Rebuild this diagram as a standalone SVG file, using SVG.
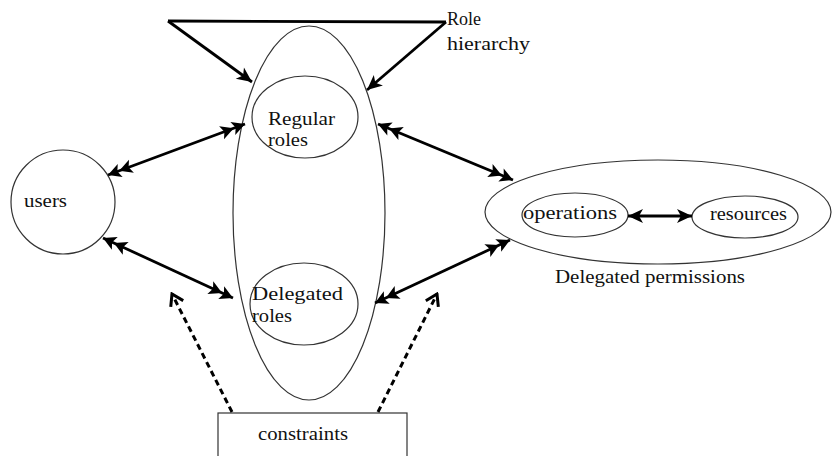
<svg xmlns="http://www.w3.org/2000/svg" width="833" height="456" viewBox="0 0 833 456">
  <defs>
    <style>
      .outline { fill: none; stroke: #333; stroke-width: 1.2; }
      .link { fill: none; stroke: #000; stroke-width: 2.8; }
      .dash { fill: none; stroke: #000; stroke-width: 3; stroke-dasharray: 6 4; }
      .lbl { font-family: "Liberation Serif", "Times New Roman", serif; font-size: 18px; fill: #111; }
    </style>
    <!-- double-stacked arrowhead used on both ends of the association links -->
    <marker id="dbl" viewBox="-28 -8 30 16" refX="0" refY="0" markerWidth="30" markerHeight="16" markerUnits="userSpaceOnUse" orient="auto-start-reverse">
      <path d="M0,0 L-13,-7 L-10,0 L-13,7 Z M-12,0 L-25,-7 L-22,0 L-25,7 Z" fill="#000"/>
    </marker>
    <marker id="tri" viewBox="-16 -8 18 16" refX="0" refY="0" markerWidth="18" markerHeight="16" markerUnits="userSpaceOnUse" orient="auto-start-reverse">
      <path d="M0,0 L-15,-7 L-11,0 L-15,7 Z" fill="#000"/>
    </marker>
    <marker id="open" viewBox="-14 -9 16 18" refX="0" refY="0" markerWidth="16" markerHeight="18" markerUnits="userSpaceOnUse" orient="auto">
      <path d="M-11,-7 L0,0 L-11,7" fill="none" stroke="#000" stroke-width="3"/>
    </marker>
  </defs>

  <!-- role hierarchy bar -->
  <g id="role-hierarchy">
    <line x1="168" y1="21" x2="446" y2="22" class="link" stroke-width="1.6"/>
    <text class="lbl" x="447" y="25" textLength="34" lengthAdjust="spacingAndGlyphs">Role</text>
    <text class="lbl" x="447" y="50" textLength="83" lengthAdjust="spacingAndGlyphs">hierarchy</text>
  </g>

  <!-- roles container -->
  <g id="roles">
    <ellipse cx="309" cy="213" rx="76" ry="187" class="outline"/>
  </g>

  <g id="regular-roles">
    <ellipse cx="305" cy="117" rx="53" ry="41" class="outline"/>
    <text class="lbl" x="268" y="125" textLength="67" lengthAdjust="spacingAndGlyphs">Regular</text>
    <text class="lbl" x="268" y="146" textLength="40" lengthAdjust="spacingAndGlyphs">roles</text>
  </g>

  <g id="delegated-roles">
    <ellipse cx="304" cy="304" rx="54" ry="41" class="outline"/>
    <text class="lbl" x="252" y="300" textLength="91" lengthAdjust="spacingAndGlyphs">Delegated</text>
    <text class="lbl" x="252" y="322" textLength="40" lengthAdjust="spacingAndGlyphs">roles</text>
  </g>

  <g id="users">
    <ellipse cx="63" cy="202" rx="52" ry="52" class="outline"/>
    <text class="lbl" x="24" y="207" textLength="43" lengthAdjust="spacingAndGlyphs" font-size="15">users</text>
  </g>

  <g id="delegated-permissions">
    <ellipse cx="658" cy="212" rx="173" ry="52" class="outline"/>
    <text class="lbl" x="555" y="283" textLength="190" lengthAdjust="spacingAndGlyphs" font-size="16">Delegated permissions</text>
  </g>

  <g id="operations">
    <ellipse cx="575" cy="215" rx="53" ry="22" class="outline"/>
    <text class="lbl" x="523" y="219" textLength="94" lengthAdjust="spacingAndGlyphs" font-size="16">operations</text>
  </g>

  <g id="resources">
    <ellipse cx="745" cy="217" rx="53" ry="21" class="outline"/>
    <text class="lbl" x="710" y="220" textLength="77" lengthAdjust="spacingAndGlyphs" font-size="16">resources</text>
  </g>

  <g id="constraints">
    <rect x="218" y="413" width="189" height="50" class="outline"/>
    <text class="lbl" x="258" y="440" textLength="90" lengthAdjust="spacingAndGlyphs" font-size="16">constraints</text>
  </g>

  <g id="connectors">
    <!-- hierarchy arrows into the roles container -->
    <line x1="168" y1="21" x2="252" y2="82" class="link" marker-end="url(#tri)"/>
    <line x1="446" y1="22" x2="367" y2="90" class="link" marker-end="url(#tri)"/>
    <!-- user assignment -->
    <line x1="108" y1="175" x2="245" y2="124" class="link" marker-start="url(#dbl)" marker-end="url(#dbl)"/>
    <line x1="103" y1="238" x2="233" y2="298" class="link" marker-start="url(#dbl)" marker-end="url(#dbl)"/>
    <!-- permission assignment -->
    <line x1="378" y1="124" x2="513" y2="180" class="link" marker-start="url(#dbl)" marker-end="url(#dbl)"/>
    <line x1="375" y1="303" x2="510" y2="240" class="link" marker-start="url(#dbl)" marker-end="url(#dbl)"/>
    <!-- operations to resources -->
    <line x1="628" y1="216" x2="692" y2="216" class="link" marker-start="url(#tri)" marker-end="url(#tri)"/>
    <!-- constraints -->
    <line x1="232" y1="412" x2="172" y2="294" class="dash" marker-end="url(#open)"/>
    <line x1="378" y1="412" x2="437" y2="294" class="dash" marker-end="url(#open)"/>
  </g>
</svg>
